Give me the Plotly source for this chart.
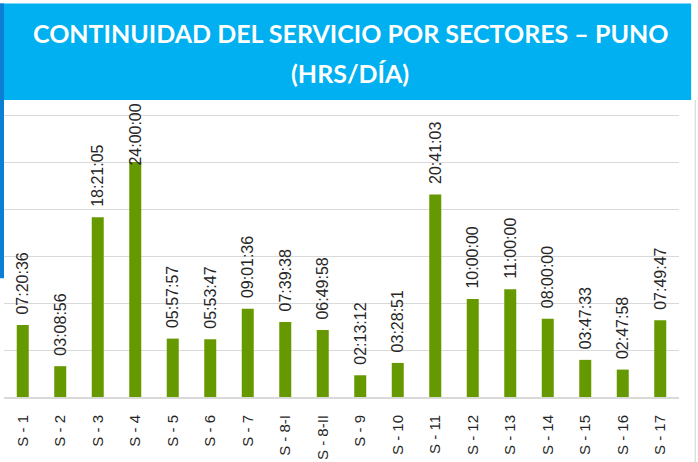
import plotly.graph_objects as go

sectors = ["S - 1", "S - 2", "S - 3", "S - 4", "S - 5", "S - 6", "S - 7", "S - 8-I", "S - 8-II",
           "S - 9", "S - 10", "S - 11", "S - 12", "S - 13", "S - 14", "S - 15", "S - 16", "S - 17"]
durations = ["07:20:36", "03:08:56", "18:21:05", "24:00:00", "05:57:57", "05:53:47", "09:01:36",
             "07:39:38", "06:49:58", "02:13:12", "03:28:51", "20:41:03", "10:00:00", "11:00:00",
             "08:00:00", "03:47:33", "02:47:58", "07:49:47"]


def to_days(s):
    h, m, sec = (int(p) for p in s.split(":"))
    return (h * 3600 + m * 60 + sec) / 86400.0


values = [to_days(d) for d in durations]
LABEL_GAP = 0.032   # room between bar top and its label (in days)
LABEL_CAP = 0.972   # labels are kept inside the chart area (pushed down if needed)

fig = go.Figure()
fig.add_trace(go.Bar(
    x=sectors, y=values,
    marker=dict(color="#669900", line=dict(width=0)),
    cliponaxis=False, width=0.32, hoverinfo="x+text", hovertext=durations,
))
# invisible carrier bars that place the value labels just above each bar
fig.add_trace(go.Bar(
    x=sectors, y=[min(v + LABEL_GAP, LABEL_CAP) for v in values], text=durations,
    textposition="outside", textangle=-90,
    textfont=dict(family="Liberation Sans", size=16, color="#262626"),
    marker=dict(color="rgba(0,0,0,0)", line=dict(width=0)),
    cliponaxis=False, width=0.32, hoverinfo="skip",
))

fig.update_layout(
    width=698, height=462,
    barmode="overlay",
    margin=dict(l=4, r=19, t=100, b=65, autoexpand=False),
    paper_bgcolor="white", plot_bgcolor="white",
    showlegend=False,
    uniformtext=dict(minsize=16, mode="show"),
    xaxis=dict(tickangle=-90, tickfont=dict(family="Liberation Sans", size=15, color="#262626"),
               showline=True, linecolor="#d9d9d9", linewidth=2, ticks="outside", ticklen=10,
               tickcolor="rgba(0,0,0,0)", showgrid=False, automargin=False),
    yaxis=dict(range=[0, 1.264], dtick=0.2, showgrid=True, gridcolor="#d9d9d9", gridwidth=1,
               showticklabels=False, zeroline=False, showline=False, automargin=False),
    shapes=[
        dict(type="rect", xref="paper", yref="paper", x0=-0.01, x1=1.018, y0=1.0, y1=1.325,
             fillcolor="#00B0F0", line=dict(width=0), layer="above"),
        dict(type="rect", xref="paper", yref="paper", x0=-0.01, x1=0.0, y0=0.4, y1=1.325,
             fillcolor="#0B7FD4", line=dict(width=0), layer="above"),
        dict(type="line", xref="paper", yref="paper", x0=1.024, x1=1.024, y0=-0.22, y1=1.0,
             line=dict(color="#d0d0d0", width=1)),
    ],
    annotations=[
        dict(text="<b>CONTINUIDAD DEL SERVICIO POR SECTORES – PUNO</b>", xref="paper", yref="paper",
             x=0.513, y=1.226, showarrow=False, xanchor="center", yanchor="middle",
             font=dict(family="Lato", size=25, color="white")),
        dict(text="<b>(HRS/DÍA)</b>", xref="paper", yref="paper",
             x=0.513, y=1.092, showarrow=False, xanchor="center", yanchor="middle",
             font=dict(family="Lato", size=25, color="white")),
    ],
)

fig.write_html("out.html", config={"displayModeBar": False},
               post_script="document.body.style.margin='0';document.body.style.overflow='hidden';")
